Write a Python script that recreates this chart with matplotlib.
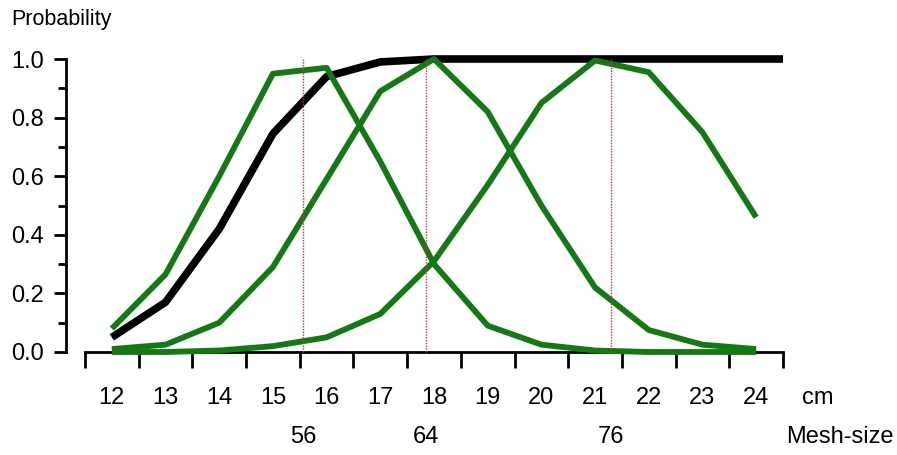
import matplotlib
matplotlib.use("Agg")
import matplotlib.pyplot as plt
import matplotlib.transforms as mtransforms

plt.rcParams['font.family'] = ['Liberation Sans', 'DejaVu Sans']

# data
size_cm = [12, 13, 14, 15, 16, 17, 18, 19, 20, 21, 22, 23, 24]
total_x = size_cm + [24.5]
total_sel = [0.05, 0.17, 0.42, 0.745, 0.94, 0.99, 1.0, 1.0, 1.0, 1.0, 1.0, 1.0, 1.0, 1.0]
mesh56 = [0.08, 0.265, 0.60, 0.95, 0.97, 0.65, 0.30, 0.09, 0.025, 0.005, 0.0, 0.0, 0.0]
mesh64 = [0.01, 0.025, 0.10, 0.29, 0.59, 0.89, 1.0, 0.82, 0.50, 0.22, 0.075, 0.025, 0.01]
mesh76 = [0.0, 0.0, 0.005, 0.02, 0.05, 0.13, 0.31, 0.57, 0.85, 0.995, 0.955, 0.75, 0.46]
mesh_pos = [15.56, 17.85, 21.30]
mesh_labels = ['56', '64', '76']

green = '#137a13'
fs = 17

fig = plt.figure(figsize=(8.97, 4.55), dpi=100)
ax = fig.add_axes([85/897, 103/455, 698/897, 293/455])

ax.plot(total_x, total_sel, color='black', lw=5.5, solid_capstyle='butt', clip_on=False, zorder=2)
for ys in (mesh56, mesh64, mesh76):
    ax.plot(size_cm, ys, color=green, lw=4.2, solid_capstyle='butt', clip_on=False, zorder=3)
for xp in mesh_pos:
    ax.plot([xp, xp], [0, 1.0], color='#d03040', lw=1, ls=(0, (1, 1)), clip_on=False, zorder=4)

ax.set_xlim(11.5, 24.5)
ax.set_ylim(0, 1)

for s in ('top', 'right'):
    ax.spines[s].set_visible(False)
ax.spines['left'].set_position(('outward', 13.7))
ax.spines['left'].set_linewidth(2)
ax.spines['bottom'].set_linewidth(2)

ax.set_yticks([0, 0.2, 0.4, 0.6, 0.8, 1.0])
ax.set_yticklabels(['0.0', '0.2', '0.4', '0.6', '0.8', '1.0'])
ax.set_yticks([0.1, 0.3, 0.5, 0.7, 0.9], minor=True)
ax.tick_params(axis='y', which='major', length=9, width=2, pad=7, labelsize=fs)
ax.tick_params(axis='y', which='minor', length=6, width=2)

ax.set_xticks([x - 0.5 for x in size_cm] + [24.5])
ax.set_xticklabels([])
ax.set_xticks(size_cm, minor=True)
ax.set_xticklabels([str(x) for x in size_cm], minor=True)
ax.tick_params(axis='x', which='major', length=11.5, width=2)
ax.tick_params(axis='x', which='minor', length=0, pad=25, labelsize=fs)

trans = mtransforms.blended_transform_factory(ax.transData, fig.transFigure)
for xp, lab in zip(mesh_pos, mesh_labels):
    ax.text(xp, 1 - 437/455, lab, transform=trans, ha='center', va='center', fontsize=fs)

fig.text(802/897, 1 - 398/455, 'cm', ha='left', va='center', fontsize=fs)
fig.text(894/897, 1 - 437/455, 'Mesh-size', ha='right', va='center', fontsize=fs)
fig.text(11/897, 1 - 20/455, 'Probability', ha='left', va='center', fontsize=15.5)

fig.savefig('out.png', dpi=100)
